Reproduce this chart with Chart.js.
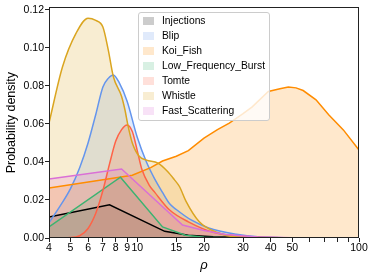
<!DOCTYPE html>
<html>
<head>
<meta charset="utf-8">
<script src="https://cdn.jsdelivr.net/npm/chart.js@4.4.0/dist/chart.umd.min.js"></script>
<style>
  html, body { margin: 0; padding: 0; background: #fff; }
  canvas { display: block; }
</style>
</head>
<body>
<canvas id="kde" width="374" height="277"></canvas>
<script>
// class names, in the order they were plotted (first = bottom)
const classNames = ['Injections', 'Blip', 'Koi_Fish', 'Low_Frequency_Burst', 'Tomte', 'Whistle', 'Fast_Scattering'];

// density curves (rho, density)
const injectionsRho = [4, 7.5, 13.3, 17, 22, 30, 45, 70];
const injectionsDensity = [0.011, 0.0175, 0.0035, 0.0015, 0.0006, 0.0002, 0.0001, 0];

const blipRho = [4, 4.5, 5, 5.5, 6, 6.5, 7, 7.4, 7.8, 8.3, 9, 10, 11, 12, 13, 14, 15, 17.5, 21, 28, 35, 50, 70];
const blipDensity = [0.008, 0.017, 0.026, 0.037, 0.05, 0.065, 0.0795, 0.084, 0.0858, 0.0816, 0.072, 0.053, 0.04, 0.031, 0.024, 0.018, 0.015, 0.0095, 0.0053, 0.002, 0.0006, 0.0001, 0];

const koiRho = [4, 9.5, 11.5, 13, 15, 17, 20, 23, 26, 30, 33, 39, 44, 48, 52, 56, 64, 73, 85, 100];
const koiDensity = [0.0263, 0.033, 0.037, 0.0405, 0.043, 0.046, 0.0525, 0.057, 0.0605, 0.0655, 0.069, 0.0771, 0.0785, 0.0794, 0.079, 0.0776, 0.0727, 0.0648, 0.0569, 0.0463];

const lfbRho = [4, 8.4, 13, 16.5, 20, 30];
const lfbDensity = [0.0058, 0.032, 0.0058, 0.0015, 0.0004, 0];

const tomteRho = [4, 5, 5.5, 6, 6.5, 7, 7.5, 8, 8.5, 9, 9.5, 10, 10.5, 11.3, 12, 14, 17, 22, 29, 40, 60];
const tomteDensity = [0, 0.0002, 0.0012, 0.005, 0.013, 0.025, 0.039, 0.051, 0.057, 0.0595, 0.056, 0.046, 0.036, 0.028, 0.024, 0.0147, 0.0085, 0.003, 0.001, 0.0002, 0];

const whistleRho = [4, 4.6, 5.3, 6, 6.5, 7, 7.4, 7.8, 8.5, 8.8, 9.1, 9.5, 10.2, 11, 12.4, 13.7, 14.7, 15.5, 16.6, 19, 22.8, 28, 40, 60];
const whistleDensity = [0.0605, 0.09, 0.1078, 0.1157, 0.1145, 0.111, 0.099, 0.085, 0.0745, 0.0675, 0.0587, 0.05, 0.043, 0.041, 0.0394, 0.035, 0.0307, 0.0271, 0.0193, 0.0087, 0.003, 0.0005, 0.0001, 0];

const fsRho = [4, 8.5, 16, 20, 25, 35, 50, 70];
const fsDensity = [0.031, 0.0363, 0.0068, 0.004, 0.0018, 0.0005, 0.0001, 0];

const seriesRho = [injectionsRho, blipRho, koiRho, lfbRho, tomteRho, whistleRho, fsRho];
const seriesDensity = [injectionsDensity, blipDensity, koiDensity, lfbDensity, tomteDensity, whistleDensity, fsDensity];

// axis ticks
const xTickValues = [4, 5, 6, 7, 8, 9, 10, 15, 20, 30, 40, 50, 60, 70, 80, 90, 100];
const xTickLabels = ['4', '5', '6', '7', '8', '9', '10', '15', '20', '30', '40', '50', '', '', '', '', '100'];
const yTickValues = [0, 0.02, 0.04, 0.06, 0.08, 0.10, 0.12];

// styling
const lineColors = ['0,0,0', '100,149,237', '255,140,0', '60,179,113', '255,99,71', '218,165,32', '218,112,214'];
const smoothed = [false, true, false, false, true, true, false];
const FONT = '"Liberation Sans", Arial, Helvetica, sans-serif';

const datasets = classNames.map((name, i) => ({
    label: name,
    data: seriesRho[i].map((r, j) => ({ x: r, y: seriesDensity[i][j] })),
    borderColor: 'rgb(' + lineColors[i] + ')',
    backgroundColor: 'rgba(' + lineColors[i] + ',0.2)',
    borderWidth: 1.5,
    pointRadius: 0,
    fill: 'origin',
    cubicInterpolationMode: smoothed[i] ? 'monotone' : 'default',
    tension: 0,
    order: classNames.length - i
}));

// axes frame (all four spines)
const framePlugin = {
    id: 'frame',
    afterDatasetsDraw(chart) {
        const a = chart.chartArea;
        const ctx = chart.ctx;
        ctx.save();
        ctx.strokeStyle = '#222';
        ctx.lineWidth = 1;
        ctx.strokeRect(Math.round(a.left) + 0.5, Math.round(a.top) + 0.5,
            Math.round(a.right - a.left) - 1, Math.round(a.bottom - a.top) - 1);
        ctx.restore();
    }
};

// legend box inside the axes, like matplotlib's
const boxLegendPlugin = {
    id: 'boxLegend',
    afterDraw(chart) {
        const ctx = chart.ctx;
        const x0 = 138.5, y0 = 12.5, w = 131, h = 108, r = 2.5;
        ctx.save();
        ctx.beginPath();
        ctx.moveTo(x0 + r, y0);
        ctx.lineTo(x0 + w - r, y0);
        ctx.arcTo(x0 + w, y0, x0 + w, y0 + r, r);
        ctx.lineTo(x0 + w, y0 + h - r);
        ctx.arcTo(x0 + w, y0 + h, x0 + w - r, y0 + h, r);
        ctx.lineTo(x0 + r, y0 + h);
        ctx.arcTo(x0, y0 + h, x0, y0 + h - r, r);
        ctx.lineTo(x0, y0 + r);
        ctx.arcTo(x0, y0, x0 + r, y0, r);
        ctx.closePath();
        ctx.fillStyle = 'rgba(255,255,255,0.8)';
        ctx.fill();
        ctx.strokeStyle = '#cccccc';
        ctx.lineWidth = 1;
        ctx.stroke();

        ctx.font = '10.3px ' + FONT;
        ctx.textBaseline = 'middle';
        ctx.textAlign = 'left';
        chart.data.datasets.forEach((ds, i) => {
            const cy = 21 + i * 15;
            ctx.fillStyle = ds.backgroundColor;
            ctx.fillRect(143, cy - 4, 11, 8);
            ctx.fillStyle = '#000';
            ctx.fillText(ds.label, 162, cy);
        });
        ctx.restore();
    }
};

new Chart(document.getElementById('kde'), {
    type: 'line',
    data: { datasets: datasets },
    options: {
        responsive: false,
        devicePixelRatio: 1,
        animation: false,
        layout: { padding: { left: 0, top: 7, right: 15, bottom: 0 } },
        plugins: {
            legend: { display: false },
            tooltip: { enabled: false },
            filler: { drawTime: 'beforeDatasetsDraw' }
        },
        scales: {
            x: {
                type: 'logarithmic',
                min: 4,
                max: 100,
                afterBuildTicks: (scale) => { scale.ticks = xTickValues.map(v => ({ value: v })); },
                afterFit: (scale) => { scale.height = 39; },
                grid: { drawOnChartArea: false, drawTicks: true, tickLength: 4, tickColor: '#222' },
                border: { display: false },
                ticks: {
                    autoSkip: false,
                    maxRotation: 0,
                    padding: 0,
                    color: '#000',
                    font: { family: FONT, size: 10.5 },
                    callback: (value, index) => xTickLabels[index]
                },
                title: {
                    display: true,
                    text: 'ρ',
                    color: '#000',
                    font: { family: FONT, size: 13, style: 'italic' },
                    padding: { top: 0, bottom: 4 }
                }
            },
            y: {
                min: 0,
                max: 0.1214,
                afterBuildTicks: (scale) => { scale.ticks = yTickValues.map(v => ({ value: v })); },
                afterFit: (scale) => { scale.width = 49; },
                grid: { drawOnChartArea: false, drawTicks: true, tickLength: 4, tickColor: '#222' },
                border: { display: false },
                ticks: {
                    padding: 1,
                    color: '#000',
                    font: { family: FONT, size: 10.5 },
                    callback: (value) => value.toFixed(2)
                },
                title: {
                    display: true,
                    text: 'Probability density',
                    color: '#000',
                    font: { family: FONT, size: 12.5 },
                    padding: { top: 4, bottom: 0 }
                }
            }
        }
    },
    plugins: [framePlugin, boxLegendPlugin]
});
</script>
</body>
</html>
